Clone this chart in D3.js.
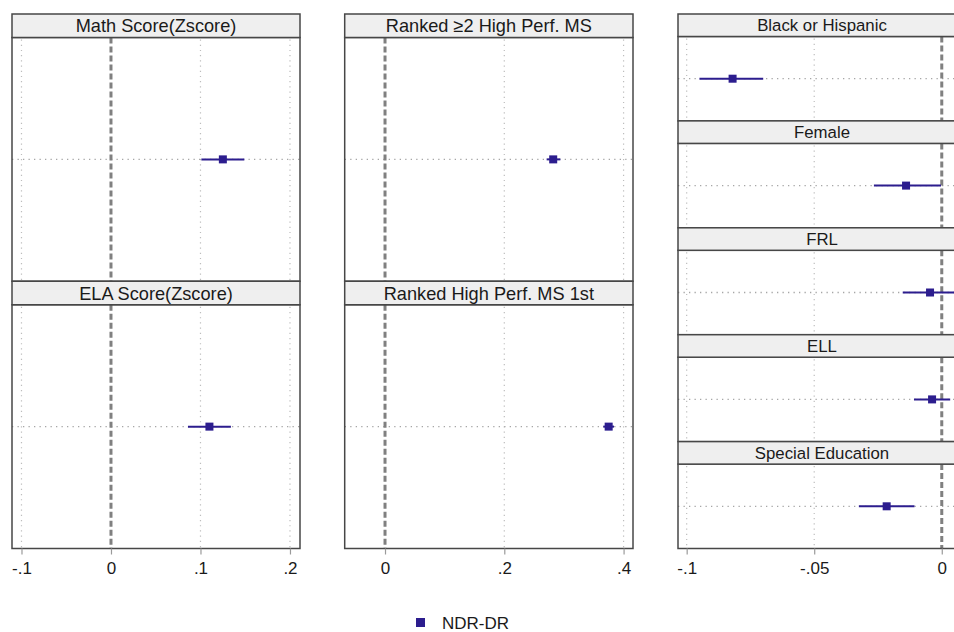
<!DOCTYPE html>
<html>
<head>
<meta charset="utf-8">
<script src="https://cdn.jsdelivr.net/npm/d3@7"></script>
<style>
  html, body { margin: 0; padding: 0; background: #fff; }
  svg { display: block; font-family: "Liberation Sans", Arial, sans-serif; }
</style>
</head>
<body>
<svg id="chart" width="954" height="632"></svg>
<script>
// Outcome panels, grouped into three columns
const panelTitles = [
  "Math Score(Zscore)", "ELA Score(Zscore)",
  "Ranked \u22652 High Perf. MS", "Ranked High Perf. MS 1st",
  "Black or Hispanic", "Female", "FRL", "ELL", "Special Education"
];
const panelColumn = [0, 0, 1, 1, 2, 2, 2, 2, 2];
const panelRow    = [0, 1, 0, 1, 0, 1, 2, 3, 4];

// NDR-DR point estimates and confidence bounds
const estimate = [0.125, 0.110, 0.282, 0.375, -0.082, -0.014, -0.0046, -0.0038, -0.0216];
const ciLow    = [0.101, 0.086, 0.271, 0.366, -0.095, -0.0266, -0.0153, -0.0109, -0.0325];
const ciHigh   = [0.149, 0.134, 0.294, 0.384, -0.070, -0.0003, 0.0061, 0.0033, -0.0107];

// Axis ticks per column
const columnTicks = [
  [-0.1, 0, 0.1, 0.2],
  [0, 0.2, 0.4],
  [-0.1, -0.05, 0]
];
const columnTickLabels = [
  ["-.1", "0", ".1", ".2"],
  ["0", ".2", ".4"],
  ["-.1", "-.05", "0"]
];
const seriesName = "NDR-DR";

// Layout
const columns = [
  { x0: 12,    x1: 300, domain: [-0.1106, 0.2112], rows: 2, strip: 23.5, font: 18.2 },
  { x0: 344.7, x1: 633, domain: [-0.0676, 0.4158], rows: 2, strip: 23.5, font: 18.2 },
  { x0: 678,   x1: 966, domain: [-0.1034, 0.0095], rows: 5, strip: 22.5, font: 16.8 }
];
const gridTop = 14, gridBottom = 548.5;
const markColor = "#2c1d8e";
const frameColor = "#474747";

const svg = d3.select("#chart");

const xScales = columns.map(c => d3.scaleLinear().domain(c.domain).range([c.x0, c.x1]));

panelTitles.forEach((title, i) => {
  const c = columns[panelColumn[i]];
  const x = xScales[panelColumn[i]];
  const h = (gridBottom - gridTop) / c.rows;
  const py0 = gridTop + panelRow[i] * h;
  const plotTop = py0 + c.strip;
  const plotBottom = py0 + h;
  const g = svg.append("g");

  // plot area
  g.append("rect")
    .attr("x", c.x0).attr("y", plotTop)
    .attr("width", c.x1 - c.x0).attr("height", plotBottom - plotTop)
    .attr("fill", "#fff");

  // vertical grid lines
  columnTicks[panelColumn[i]].filter(t => t !== 0).forEach(t => {
    g.append("line")
      .attr("x1", x(t)).attr("x2", x(t))
      .attr("y1", plotTop + 2).attr("y2", plotBottom)
      .attr("stroke", "#bdbdbd").attr("stroke-width", 1.2)
      .attr("stroke-dasharray", "1.2,4");
  });

  const y = d3.scalePoint().domain([seriesName]).range([plotTop, plotBottom]).padding(0.5);
  const yy = y(seriesName);

  // horizontal reference at the estimate row
  g.append("line")
    .attr("x1", c.x0).attr("x2", c.x1)
    .attr("y1", yy).attr("y2", yy)
    .attr("stroke", "#a6a6a6").attr("stroke-width", 1.3)
    .attr("stroke-dasharray", "1.3,4.2");

  // zero line
  g.append("line")
    .attr("x1", x(0)).attr("x2", x(0))
    .attr("y1", plotTop).attr("y2", plotBottom)
    .attr("stroke", "#808080").attr("stroke-width", 3)
    .attr("stroke-dasharray", "6,3");

  // confidence interval
  g.append("line")
    .attr("x1", x(ciLow[i])).attr("x2", x(ciHigh[i]))
    .attr("y1", yy).attr("y2", yy)
    .attr("stroke", markColor).attr("stroke-width", 2);

  // point estimate
  const ms = 8;
  g.append("rect")
    .attr("x", x(estimate[i]) - ms / 2).attr("y", yy - ms / 2)
    .attr("width", ms).attr("height", ms)
    .attr("fill", markColor);

  // plot frame
  g.append("rect")
    .attr("x", c.x0).attr("y", plotTop)
    .attr("width", c.x1 - c.x0).attr("height", plotBottom - plotTop)
    .attr("fill", "none").attr("stroke", frameColor).attr("stroke-width", 1.5);

  // title strip
  g.append("rect")
    .attr("x", c.x0).attr("y", py0)
    .attr("width", c.x1 - c.x0).attr("height", c.strip)
    .attr("fill", "#efefef").attr("stroke", frameColor).attr("stroke-width", 1.5);
  g.append("text")
    .attr("x", (c.x0 + c.x1) / 2).attr("y", py0 + c.strip / 2)
    .attr("dy", "0.36em")
    .attr("text-anchor", "middle")
    .attr("font-size", c.font)
    .attr("fill", "#1a1a1a")
    .text(title);
});

// bottom axes
columns.forEach((c, ci) => {
  const labels = columnTickLabels[ci];
  const ax = d3.axisBottom(xScales[ci])
    .tickValues(columnTicks[ci])
    .tickSize(6)
    .tickPadding(7)
    .tickFormat((d, k) => labels[k]);
  const g = svg.append("g")
    .attr("transform", `translate(0,${gridBottom})`)
    .call(ax);
  g.select(".domain").remove();
  g.selectAll(".tick line").attr("stroke", "#9a9a9a").attr("stroke-width", 1.2);
  g.selectAll(".tick text")
    .attr("font-size", 17)
    .attr("font-family", "Liberation Sans, Arial, sans-serif")
    .attr("fill", "#1a1a1a");
});

// legend
const leg = svg.append("g");
leg.append("rect")
  .attr("x", 416).attr("y", 618)
  .attr("width", 9).attr("height", 9)
  .attr("fill", markColor);
leg.append("text")
  .attr("x", 442).attr("y", 628.5)
  .attr("font-size", 17)
  .attr("fill", "#1a1a1a")
  .text(seriesName);
</script>
</body>
</html>
